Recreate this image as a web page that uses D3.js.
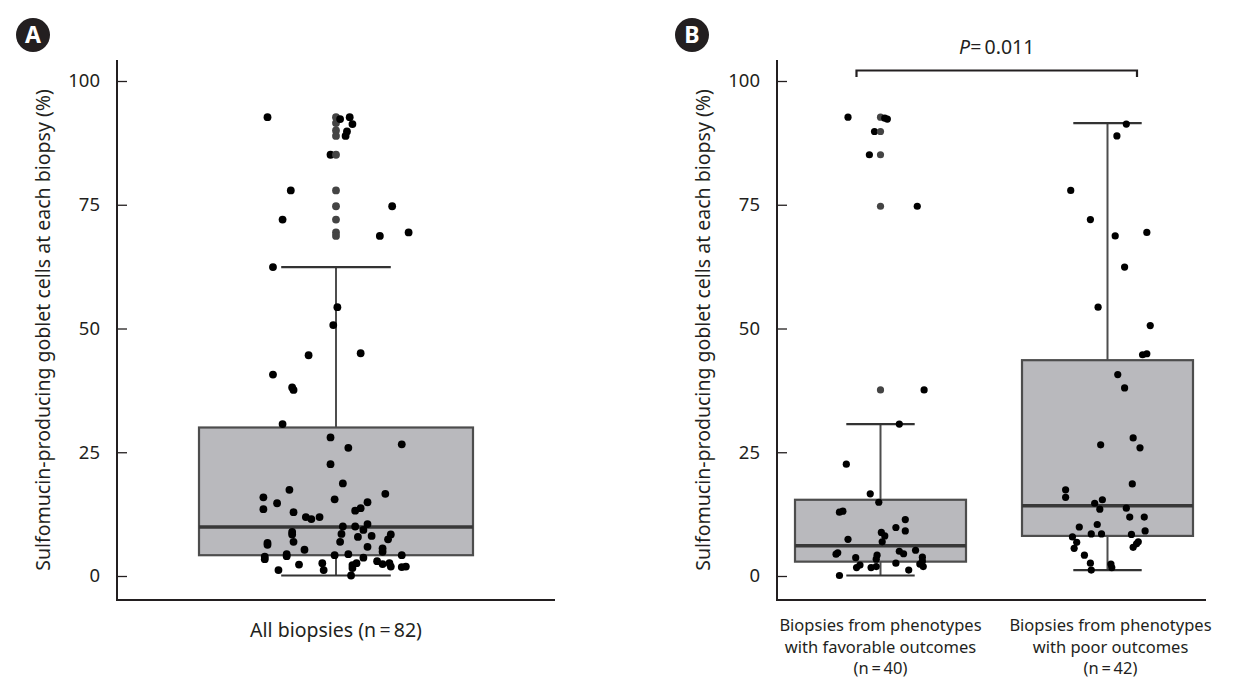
<!DOCTYPE html>
<html><head><meta charset="utf-8">
<script src="https://cdn.jsdelivr.net/npm/d3@7"></script>
<style>body{margin:0;background:#fff} text{font-family:"Noto Sans",sans-serif;fill:#231f20}</style>
</head><body><svg id="c" width="1233" height="690"></svg>
<script>
// ---------- data ----------
const yTicks = [0, 25, 50, 75, 100];
const yTitle = "Sulfomucin-producing goblet cells at each biopsy (%)";
const catA = ["all"];
const labelA = "All biopsies (n\u2009=\u200982)";
const catB = ["favorable", "poor"];
const labelsB = [
  ["Biopsies from phenotypes", "with favorable outcomes", "(n\u2009=\u200940)"],
  ["Biopsies from phenotypes", "with poor outcomes", "(n\u2009=\u200942)"]
];
const pText = "0.011";
// box stats: [min whisker, Q1, median, Q3, max whisker]
const statsAll  = [0.1, 4.2, 9.9, 30.0, 62.4];
const statsFav  = [0.1, 2.9, 6.1, 15.4, 30.7];
const statsPoor = [1.2, 8.1, 14.2, 43.6, 91.5];

// points: value and horizontal jitter (fraction of half box width)
const allVals = [92.7,92.7,91.5,90.0,88.9,92.3,92.7,91.3,89.8,88.9,85.1,85.1,77.9,77.9,74.7,74.7,72.0,72.0,69.4,68.7,68.7,69.4,62.4,54.3,50.7,44.6,45.0,40.7,38.1,37.6,30.7,28.0,25.9,26.6,22.6,18.7,17.4,15.9,16.6,14.7,15.5,13.5,14.9,12.9,13.2,13.7,11.9,11.5,11.9,10.0,10.0,10.5,9.3,8.9,8.4,8.5,7.9,8.1,8.4,7.4,6.9,6.9,6.7,6.3,5.9,5.3,5.6,4.9,4.4,4.0,4.2,4.4,4.2,3.9,3.4,3.7,2.3,2.6,1.2,1.2,2.2,2.6,1.6,3.0,2.4,2.6,1.9,1.8,1.9,0.1];
const allJit  = [-0.50,0,0,0,0,0.03,0.10,0.12,0.08,0.07,-0.04,0,-0.33,0,0,0.41,-0.39,0,0,0,0.32,0.53,-0.46,0.01,-0.02,-0.20,0.18,-0.46,-0.32,-0.31,-0.39,-0.04,0.09,0.48,-0.04,0.05,-0.34,-0.53,0.36,-0.43,-0.01,-0.53,0.23,-0.31,0.14,0.18,-0.22,-0.18,-0.12,0.05,0.14,0.23,0.20,-0.32,-0.32,0.04,0.16,0.26,0.40,0.38,-0.31,0.03,-0.50,-0.50,0.23,-0.23,0.34,0.34,-0.36,-0.36,-0.01,0.09,0.48,-0.52,-0.52,0.20,-0.27,-0.10,-0.09,-0.42,0.12,0.15,0.12,0.30,0.34,0.39,0.40,0.48,0.51,0.11];

const favVals = [92.7,92.7,92.5,92.3,89.8,89.8,85.1,85.1,74.7,74.7,37.6,37.6,30.7,22.6,16.6,14.9,12.9,13.1,11.4,9.8,9.1,8.8,8.1,6.9,7.4,4.4,4.7,3.7,4.2,3.4,5.0,4.5,5.2,3.8,3.0,2.6,2.2,1.7,1.7,1.9,1.2,2.4,1.9,0.1];
const favJit  = [-0.38,0,0.05,0.08,-0.07,0,-0.13,0,0,0.43,0,0.51,0.22,-0.40,-0.12,-0.02,-0.48,-0.44,0.29,0.18,0.29,0.01,0.05,0.02,-0.38,-0.52,-0.50,-0.29,-0.04,-0.05,0.22,0.27,0.41,0.49,0.49,0.18,-0.24,-0.28,-0.11,-0.05,0.33,0.46,0.50,-0.48];

const poorVals = [91.3,88.9,77.9,72.0,68.7,69.4,62.4,54.3,50.6,44.7,44.9,40.7,38.0,27.9,25.9,26.5,17.4,15.9,18.6,15.4,14.7,13.5,13.7,11.9,11.9,9.9,10.4,9.1,7.9,8.5,8.5,8.4,6.8,5.6,6.9,6.5,5.8,4.2,2.6,1.2,2.4,1.7];
const poorJit  = [0.22,0.11,-0.43,-0.20,0.09,0.46,0.20,-0.11,0.50,0.41,0.46,0.12,0.20,0.30,0.38,-0.08,-0.49,-0.49,0.29,-0.06,-0.15,-0.09,0.22,0.26,0.43,-0.33,-0.12,0.44,-0.41,-0.19,-0.07,0.28,-0.36,-0.39,0.36,0.34,0.30,-0.27,-0.20,-0.19,0.04,0.05];

// ---------- drawing ----------
const svg = d3.select("#c");
const BOX_FILL = "#b9b9bd", BOX_STROKE = "#4d4d4d", INK = "#231f20";

function panel(o) {
  const g = svg.append("g");
  const y = d3.scaleLinear().domain([0, 100]).range([576, 81]);
  // axis lines
  g.append("line").attr("x1", o.ax).attr("x2", o.ax).attr("y1", 60).attr("y2", 600.5)
    .attr("stroke", INK).attr("stroke-width", 2);
  g.append("line").attr("x1", o.ax - 1).attr("x2", o.axEnd).attr("y1", 600).attr("y2", 600)
    .attr("stroke", INK).attr("stroke-width", 2);
  const axis = d3.axisLeft(y).tickValues(yTicks).tickSizeInner(-10).tickSizeOuter(0).tickPadding(17);
  const ag = g.append("g").attr("transform", `translate(${o.ax},0)`).call(axis);
  ag.select(".domain").remove();
  ag.selectAll(".tick line").attr("stroke", INK).attr("stroke-width", 1.3);
  ag.selectAll(".tick text").attr("font-size", 18.5).attr("font-family", "Noto Sans").attr("fill", INK);
  // y title
  g.append("text").attr("transform", `translate(${o.ax - 67},330) rotate(-90)`)
    .attr("text-anchor", "middle").attr("font-size", 19.5).text(yTitle);
  // badge
  g.append("circle").attr("cx", o.badgeX).attr("cy", 35).attr("r", 17).attr("fill", "#231f20");
  g.append("text").attr("x", o.badgeX).attr("y", 43).attr("text-anchor", "middle")
    .attr("font-size", 23).attr("font-weight", "bold").style("fill", "#fff").text(o.badge);

  const x = d3.scaleBand().domain(o.cats).range(o.range).paddingInner(o.pad).paddingOuter(0);
  const bw = x.bandwidth();
  o.cats.forEach((c, i) => {
    const s = o.stats[i];
    const cx = x(c) + bw / 2;
    const capW = bw * 0.4;
    // whiskers
    g.append("line").attr("x1", cx).attr("x2", cx).attr("y1", y(s[3])).attr("y2", y(s[4]))
      .attr("stroke", BOX_STROKE).attr("stroke-width", 2);
    g.append("line").attr("x1", cx).attr("x2", cx).attr("y1", y(s[1])).attr("y2", y(s[0]))
      .attr("stroke", BOX_STROKE).attr("stroke-width", 2);
    [s[0], s[4]].forEach(v => g.append("line").attr("x1", cx - capW / 2).attr("x2", cx + capW / 2)
      .attr("y1", y(v)).attr("y2", y(v)).attr("stroke", "#333").attr("stroke-width", 2.2));
    // box
    g.append("rect").attr("x", x(c)).attr("width", bw).attr("y", y(s[3])).attr("height", y(s[1]) - y(s[3]))
      .attr("fill", BOX_FILL).attr("stroke", BOX_STROKE).attr("stroke-width", 2.2);
    g.append("line").attr("x1", x(c)).attr("x2", x(c) + bw).attr("y1", y(s[2])).attr("y2", y(s[2]))
      .attr("stroke", "#383838").attr("stroke-width", 3.5);
    // points
    const vals = o.vals[i], jit = o.jit[i];
    g.append("g").selectAll("circle").data(vals).join("circle")
      .attr("cx", (d, k) => cx + jit[k] * bw / 2)
      .attr("cy", d => y(d)).attr("r", o.r)
      .attr("fill", (d, k) => jit[k] === 0 ? "#444" : "#000");
    // category label
    const lines = o.labels[i];
    lines.forEach((t, li) => g.append("text").attr("x", cx + (o.labelShift ? o.labelShift[i] : 0))
      .attr("y", o.labelY + li * 21.5).attr("text-anchor", "middle").attr("font-size", o.labelSize).text(t));
  });
  return {x, y};
}

panel({ax: 117, axEnd: 555, badgeX: 33, badge: "A", cats: catA, range: [199, 473], pad: 0, r: 3.9,
  stats: [statsAll], vals: [allVals], jit: [allJit], labels: [[labelA]], labelY: 637, labelSize: 19.5});

panel({ax: 777, axEnd: 1206, badgeX: 692, badge: "B", cats: catB, range: [795, 1193], pad: 0.2467, r: 3.6,
  stats: [statsFav, statsPoor], vals: [favVals, poorVals], jit: [favJit, poorJit],
  labels: labelsB, labelY: 631, labelSize: 16.5, labelShift: [0, 3]});

// significance bracket
const bx1 = 856.5, bx2 = 1137;
svg.append("path").attr("d", `M${bx1},77V70.5H${bx2}V77`).attr("fill", "none")
  .attr("stroke", INK).attr("stroke-width", 2.2);
const pt = svg.append("text").attr("x", (bx1 + bx2) / 2).attr("y", 54).attr("text-anchor", "middle").attr("font-size", 19.5);
pt.append("tspan").attr("font-style", "italic").text("P");
pt.append("tspan").text("=\u2009" + pText);
</script></body></html>
